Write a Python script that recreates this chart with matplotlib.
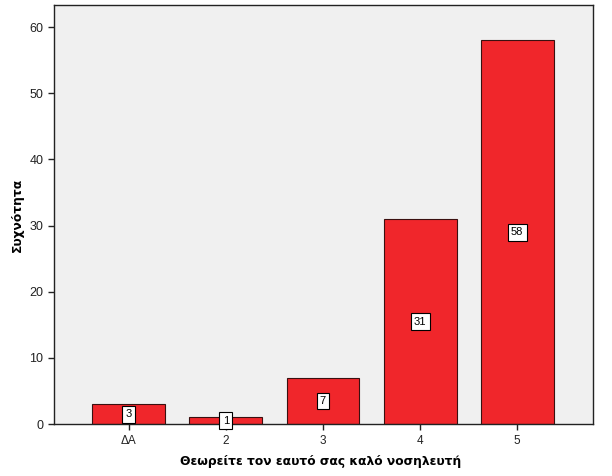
import matplotlib.pyplot as plt

# Data
categories = ["ΔΑ", "2", "3", "4", "5"]
counts = [3, 1, 7, 31, 58]
y_ticks = [0, 10, 20, 30, 40, 50, 60]

fig = plt.figure(figsize=(6.12, 4.76), dpi=100)
ax = fig.add_axes([0.088, 0.109, 0.881, 0.880])
ax.set_facecolor("#F0F0F0")

x = list(range(len(categories)))
ax.bar(x, counts, width=0.75, color="#F0262B", edgecolor="#3a1010", linewidth=0.8, zorder=2)

# value boxes at the middle of each bar
for xi, c in zip(x, counts):
    ax.text(xi, c / 2, str(c), ha="center", va="center", fontsize=8,
            family="Liberation Sans", zorder=3,
            bbox=dict(boxstyle="square,pad=0.3", facecolor="white", edgecolor="black", linewidth=0.8))

ax.set_xlim(-0.77, 4.78)
ax.set_ylim(0, 63.3)
ax.set_xticks(x)
ax.set_xticklabels(categories, family="Liberation Sans", fontsize=8.5)
ax.set_yticks(y_ticks)
ax.set_yticklabels([str(t) for t in y_ticks], family="Liberation Sans", fontsize=9)
ax.tick_params(direction="out", length=4, width=1, colors="#222222")

for s in ax.spines.values():
    s.set_linewidth(1)
    s.set_color("#222222")

ax.set_xlabel("Θεωρείτε τον εαυτό σας καλό νοσηλευτή", fontsize=8.8, fontweight="bold",
              family="DejaVu Sans")
ax.xaxis.set_label_coords(0.495, -0.074)
ax.set_ylabel("Συχνότητα", fontsize=8.8, fontweight="bold", family="DejaVu Sans")
ax.yaxis.set_label_coords(-0.056, 0.5)

fig.savefig("out.png", dpi=100)
